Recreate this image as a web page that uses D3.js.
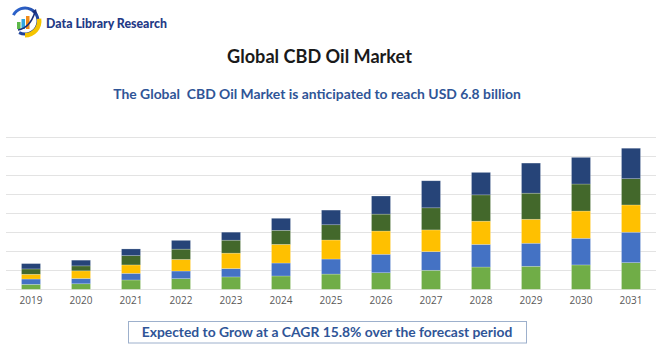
<!DOCTYPE html>
<html>
<head>
<meta charset="utf-8">
<script src="https://cdn.jsdelivr.net/npm/d3@7"></script>
<style>
  html, body { margin: 0; padding: 0; background: #fff; }
  svg { display: block; }
</style>
</head>
<body>
<svg id="chart" width="670" height="350"></svg>
<script>
// ---- data (values in gridline units) ----
const years = ["2019","2020","2021","2022","2023","2024","2025","2026","2027","2028","2029","2030","2031"];
const seriesNames = ["s1","s2","s3","s4","s5"];
const s1 = [0.26,0.29,0.49,0.56,0.65,0.70,0.80,0.87,1.00,1.17,1.21,1.28,1.40];
const s2 = [0.28,0.28,0.35,0.40,0.44,0.68,0.79,0.97,0.98,1.19,1.21,1.40,1.60];
const s3 = [0.25,0.40,0.44,0.61,0.81,0.98,1.00,1.22,1.14,1.22,1.26,1.43,1.43];
const s4 = [0.28,0.26,0.49,0.54,0.68,0.74,0.80,0.89,1.16,1.38,1.37,1.42,1.38];
const s5 = [0.28,0.30,0.35,0.46,0.42,0.63,0.77,0.95,1.42,1.18,1.58,1.40,1.60];
const gridTicks = [0,1,2,3,4,5,6,7,8];
const colors = ["#70AD47","#4472C4","#FFC000","#43682B","#264478"];

const title = "Global CBD Oil Market";
const subtitle = "The Global  CBD Oil Market is anticipated to reach USD 6.8 billion";
const footer = "Expected to Grow at a CAGR 15.8% over the forecast period";
const brand = "Data Library Research";

const svg = d3.select("#chart");

function fitText(sel, target) {
  const w = sel.node().getComputedTextLength();
  const fs = parseFloat(sel.attr("font-size"));
  sel.attr("font-size", (fs * target / w).toFixed(2));
}

// ---- logo ----
const logo = svg.append("g");
const grad = svg.append("defs").append("linearGradient").attr("id","ring").attr("x1","0").attr("y1","0").attr("x2","1").attr("y2","1");
grad.append("stop").attr("offset","0").attr("stop-color","#2F6BD8");
grad.append("stop").attr("offset","1").attr("stop-color","#1B2F7A");
logo.append("path")
  .attr("d", d3.arc()({innerRadius:11.5, outerRadius:14.5, startAngle:-Math.PI*0.35, endAngle:Math.PI*1.15}))
  .attr("transform","translate(25,21)").attr("fill","url(#ring)");
logo.append("path")
  .attr("d", d3.arc()({innerRadius:12, outerRadius:16.5, startAngle:Math.PI*0.45, endAngle:Math.PI*1.0}))
  .attr("transform","translate(25,21)").attr("fill","#F5C400");
const lb = [{x:17,h:7,c:"#5DB84A"},{x:21.5,h:10,c:"#2FA6DF"},{x:26,h:13,c:"#F08C1A"}];
logo.selectAll("rect.lb").data(lb).join("rect")
  .attr("x", d=>d.x).attr("y", d=>29-d.h).attr("width",3.5).attr("height", d=>d.h).attr("fill", d=>d.c);
logo.append("path").attr("d","M18 30 Q30 28 35 12").attr("fill","none").attr("stroke","#1B2F7A").attr("stroke-width",1.6);
logo.append("path").attr("d","M32 12 L36 9 L37 14 Z").attr("fill","#1B2F7A");
const bt = svg.append("text").attr("x",46).attr("y",28)
  .attr("font-family","Lato, 'Open Sans', sans-serif").attr("font-weight","900")
  .attr("font-size",12).attr("fill","#1F3A86").text(brand);
fitText(bt, 121);

// ---- titles ----
const t1 = svg.append("text").attr("x",319.5).attr("y",63).attr("text-anchor","middle")
  .attr("font-family","Lato, 'Open Sans', sans-serif").attr("font-weight","bold")
  .attr("font-size",17).attr("fill","#1a1a1a").text(title);
fitText(t1, 185);
const t2 = svg.append("text").attr("x",317).attr("y",99).attr("text-anchor","middle")
  .attr("font-family","Lato, 'Open Sans', sans-serif").attr("font-weight","bold")
  .attr("font-size",13).attr("fill","#2F5597").attr("xml:space","preserve")
  .style("white-space","pre").text(subtitle);
fitText(t2, 408);

// ---- chart ----
const x = d3.scaleBand().domain(years).range([6,656]).paddingInner(0.62).paddingOuter(0.31);
const y = d3.scaleLinear().domain([0,8]).range([289.3,137]);

svg.append("g").selectAll("line").data(gridTicks).join("line")
  .attr("x1",6).attr("x2",656)
  .attr("y1", d=>Math.round(y(d))+0.5).attr("y2", d=>Math.round(y(d))+0.5)
  .attr("stroke","#E3E3E3").attr("stroke-width",1);

const rows = years.map((yr,i)=>({year:yr, s1:s1[i], s2:s2[i], s3:s3[i], s4:s4[i], s5:s5[i]}));
const stack = d3.stack().keys(seriesNames)(rows);

svg.append("g").selectAll("g").data(stack).join("g")
  .attr("fill", (d,i)=>colors[i])
  .selectAll("rect").data(d=>d).join("rect")
  .attr("x", d=>x(d.data.year))
  .attr("width", x.bandwidth())
  .attr("y", d=>y(d[1]))
  .attr("height", d=>y(d[0])-y(d[1]))
  .attr("stroke","#ffffff").attr("stroke-opacity",0.35).attr("stroke-width",0.6);

const xAxis = svg.append("g").attr("transform","translate(0,289.3)")
  .call(d3.axisBottom(x).tickSize(0).tickPadding(8));
xAxis.select(".domain").remove();
xAxis.selectAll("text").attr("font-family","'Open Sans', Lato, sans-serif")
  .attr("font-size",10).attr("fill","#595959");

// ---- footer box ----
svg.append("rect").attr("x",128.5).attr("y",321.5).attr("width",398).attr("height",21.5)
  .attr("fill","#fff").attr("stroke","#9DB0CC").attr("stroke-width",1);
const ft = svg.append("text").attr("x",327).attr("y",336.5).attr("text-anchor","middle")
  .attr("font-family","Lato, 'Open Sans', sans-serif").attr("font-weight","bold")
  .attr("font-size",13).attr("fill","#2F5597").text(footer);
fitText(ft, 371);
</script>
</body>
</html>
